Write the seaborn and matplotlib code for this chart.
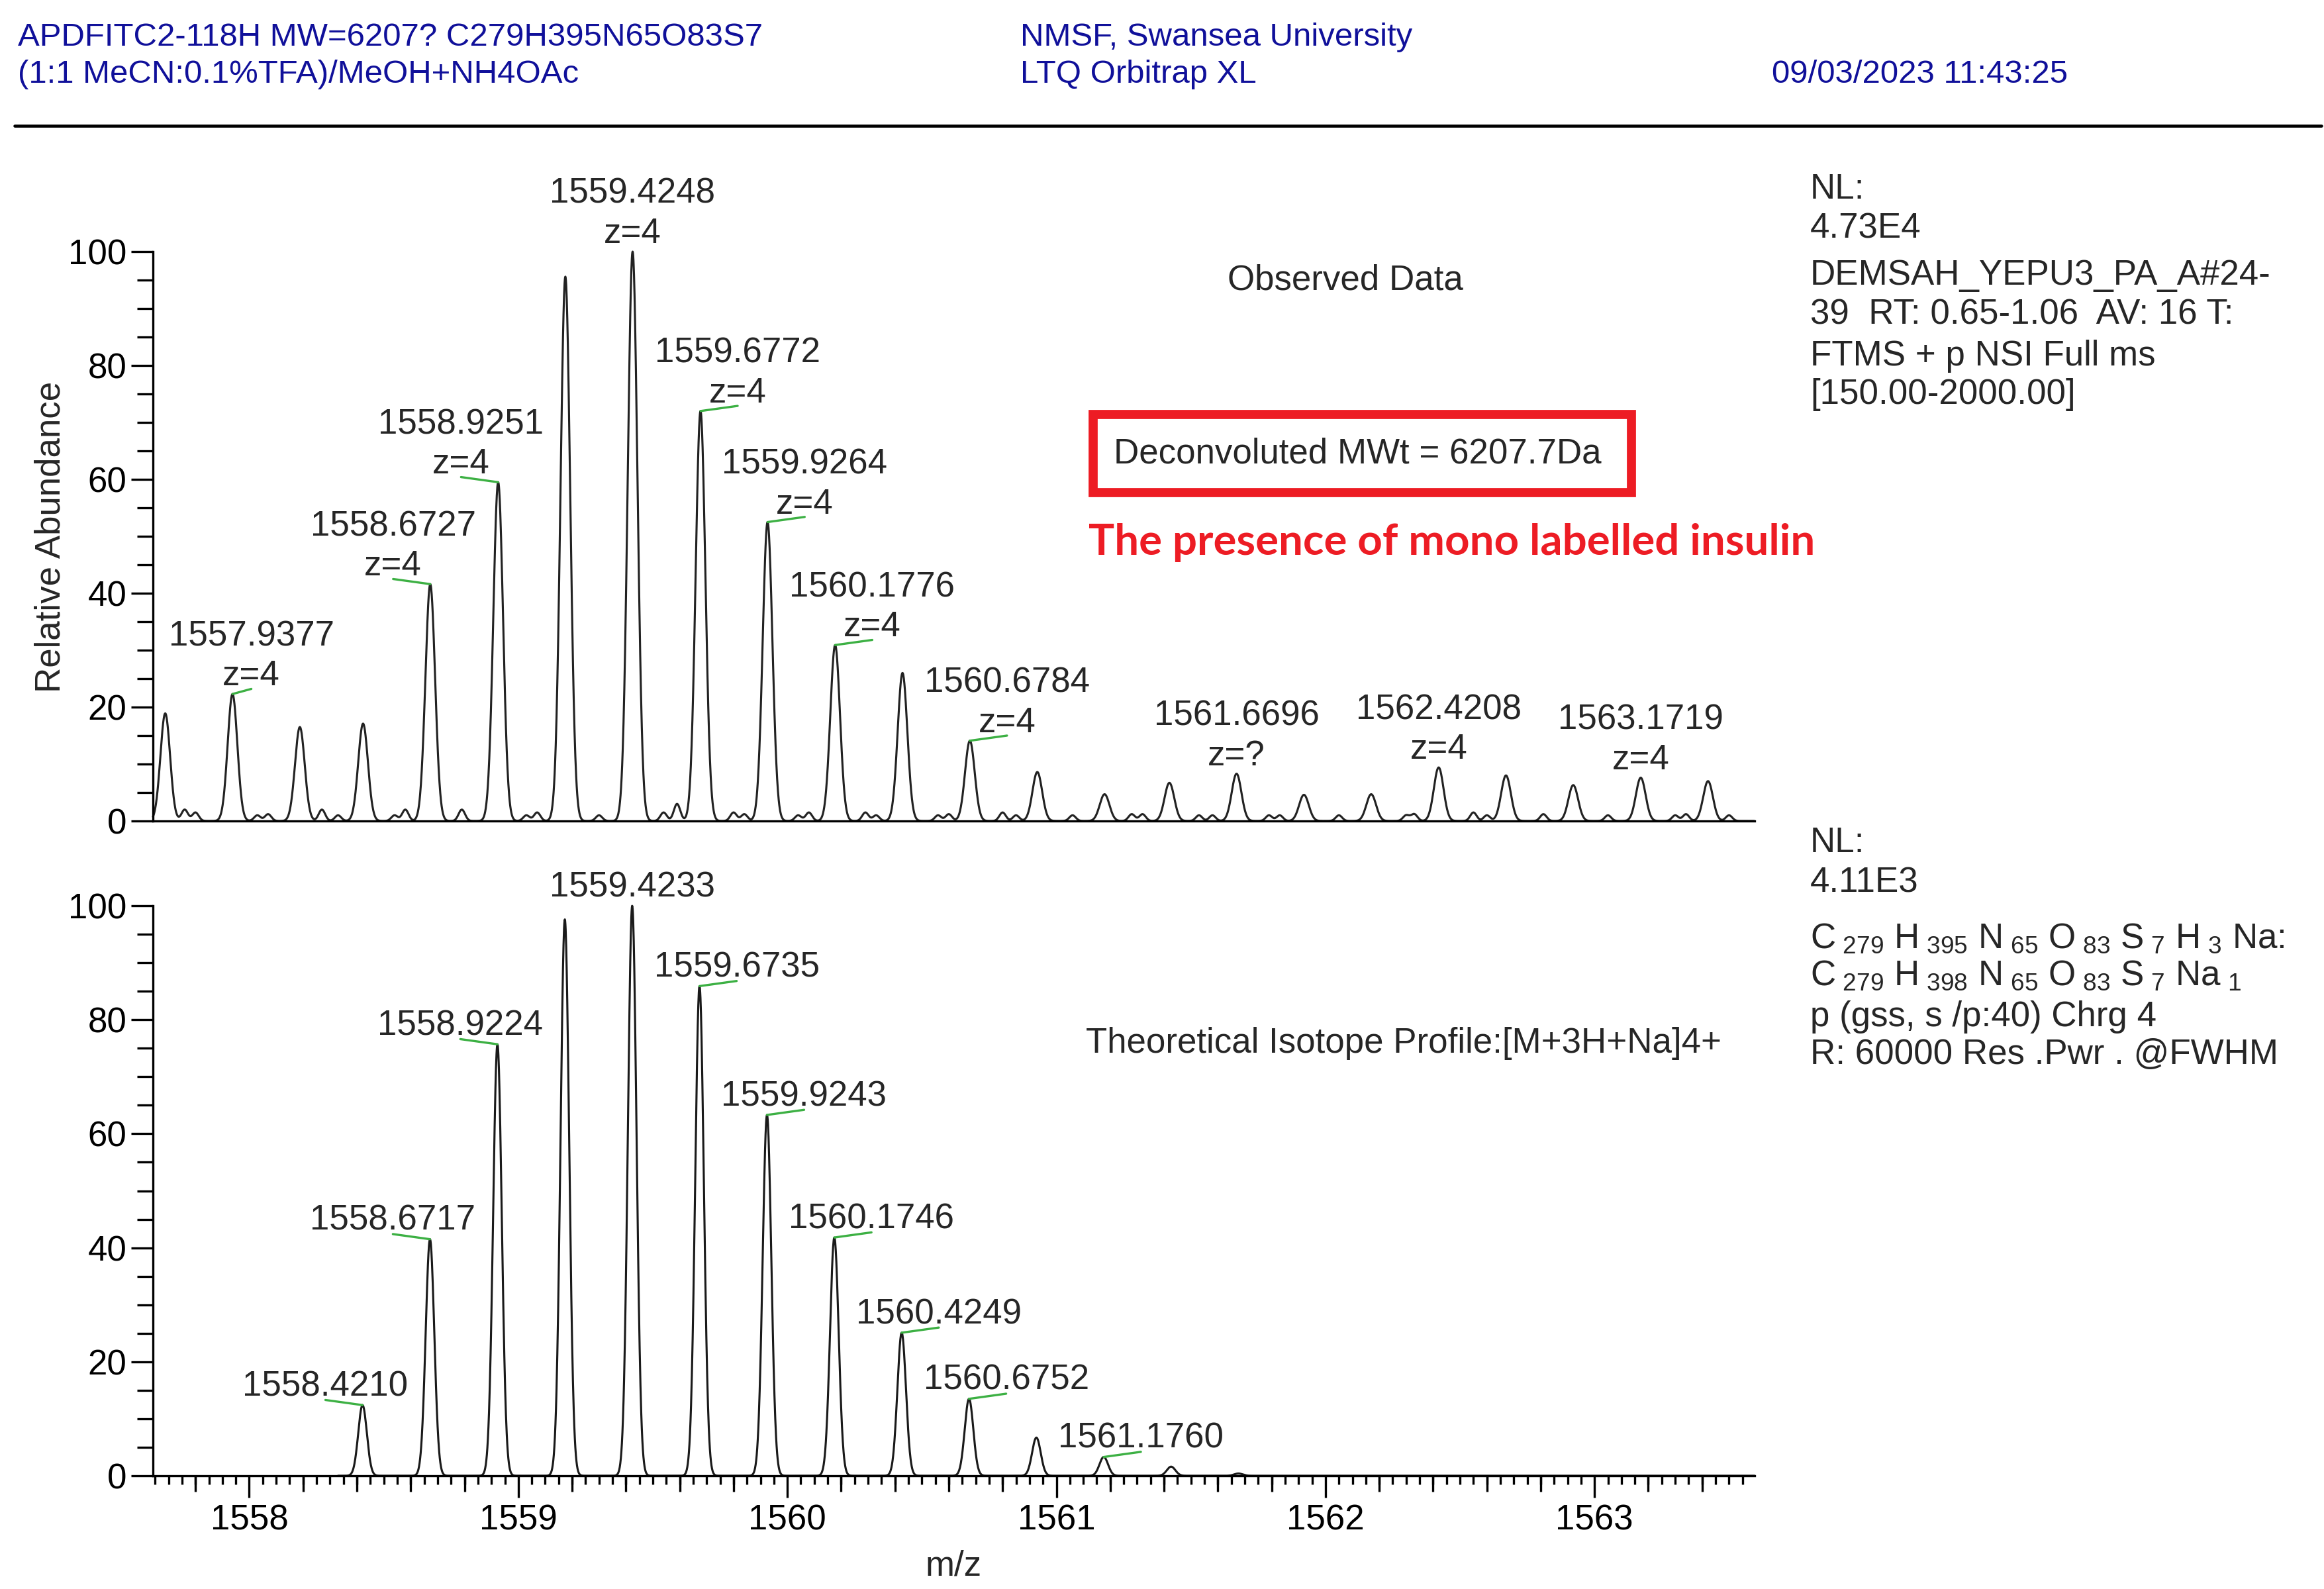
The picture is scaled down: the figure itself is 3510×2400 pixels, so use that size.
import numpy as np
import pandas as pd
import matplotlib
matplotlib.use("Agg")
import matplotlib.pyplot as plt
import seaborn as sns
from matplotlib.patches import Rectangle
from matplotlib.lines import Line2D
from matplotlib.ticker import MultipleLocator, FixedLocator, NullFormatter, FixedFormatter

# ---------------- data ----------------
obs_mz = [1557.6877, 1557.9377, 1558.1880, 1558.4230, 1558.6727, 1558.9251,
          1559.1748, 1559.4248, 1559.6772, 1559.9264, 1560.1776, 1560.4280,
          1560.6784, 1560.9290, 1561.1790, 1561.4200, 1561.6696, 1561.9200,
          1562.1700, 1562.4208, 1562.6710, 1562.9210, 1563.1719, 1563.4220]
obs_int = [18.9, 22.3, 16.5, 17.1, 41.6, 59.5,
           95.6, 100.0, 72.0, 52.5, 30.9, 26.0,
           14.1, 8.6, 4.7, 6.7, 8.3, 4.6,
           4.7, 9.4, 8.0, 6.3, 7.6, 7.0]
obs_minor_mz = [1557.76, 1557.80, 1558.03, 1558.07, 1558.27, 1558.33, 1558.54,
                1558.58, 1558.79, 1559.03, 1559.07, 1559.30, 1559.54, 1559.59,
                1559.80, 1559.84, 1560.04, 1560.08, 1560.29, 1560.33, 1560.56,
                1560.60, 1560.80, 1560.85, 1561.06, 1561.28, 1561.32, 1561.53,
                1561.58, 1561.79, 1561.83, 1562.05, 1562.30, 1562.33, 1562.55,
                1562.60, 1562.81, 1563.05, 1563.30, 1563.34, 1563.50]
obs_minor_int = [2.0, 1.5, 1.0, 1.2, 2.0, 1.0, 1.0, 2.0, 2.0, 1.0, 1.5, 1.0,
                 1.5, 3.0, 1.5, 1.2, 1.0, 1.5, 1.5, 1.0, 1.0, 1.2, 1.5, 1.0,
                 1.0, 1.2, 1.2, 1.0, 1.0, 1.0, 1.0, 1.0, 1.0, 1.2, 1.5, 1.0,
                 1.2, 1.0, 1.0, 1.2, 1.0]
obs_labels = ["1557.9377", "1558.6727", "1558.9251", "1559.4248", "1559.6772",
              "1559.9264", "1560.1776", "1560.6784", "1561.6696", "1562.4208",
              "1563.1719"]
obs_charges = ["z=4", "z=4", "z=4", "z=4", "z=4", "z=4", "z=4", "z=4",
               "z=?", "z=4", "z=4"]

theo_mz = [1558.1700, 1558.4210, 1558.6717, 1558.9224, 1559.1729, 1559.4233,
           1559.6735, 1559.9243, 1560.1746, 1560.4249, 1560.6752, 1560.9256,
           1561.1760, 1561.4263, 1561.6766]
theo_int = [0.2, 12.4, 41.5, 75.7, 97.6, 100.0, 85.9, 63.3, 41.8, 25.1,
            13.5, 6.7, 3.3, 1.6, 0.4]
theo_labels = ["1558.4210", "1558.6717", "1558.9224", "1559.4233", "1559.6735",
               "1559.9243", "1560.1746", "1560.4249", "1560.6752", "1561.1760"]

x_major = [1558, 1559, 1560, 1561, 1562, 1563]
y_major = [0, 20, 40, 60, 80, 100]

header_left = ["APDFITC2-118H MW=6207? C279H395N65O83S7",
               "(1:1 MeCN:0.1%TFA)/MeOH+NH4OAc"]
header_mid = ["NMSF, Swansea University", "LTQ Orbitrap XL"]
header_date = "09/03/2023 11:43:25"
info_top = ["NL:", "4.73E4", "DEMSAH_YEPU3_PA_A#24-",
            "39  RT: 0.65-1.06  AV: 16 T:", "FTMS + p NSI Full ms",
            "[150.00-2000.00]"]
info_bottom = ["NL:", "4.11E3",
               r"C$_{\ 279}$ H$_{\ 395}$ N$_{\ 65}$ O$_{\ 83}$ S$_{\ 7}$ H$_{\ 3}$ Na:",
               r"C$_{\ 279}$ H$_{\ 398}$ N$_{\ 65}$ O$_{\ 83}$ S$_{\ 7}$ Na$_{\ 1}$",
               "p (gss, s /p:40) Chrg 4",
               "R: 60000 Res .Pwr . @FWHM"]

# ---------------- layout (styling only) ----------------
obs_label_side = [0.07, -0.138, -0.138, 0, 0.138, 0.138, 0.138, 0.138, 0, 0, 0]
theo_label_side = [-0.138, -0.138, -0.138, 0, 0.138, 0.138, 0.138, 0.138, 0.138, 0.138]

W, H = 3510, 2400
sns.set_style("ticks")
plt.rcParams["font.family"] = ["Liberation Sans", "DejaVu Sans"]
plt.rcParams["mathtext.fontset"] = "custom"
plt.rcParams["mathtext.rm"] = "Liberation Sans"
plt.rcParams["mathtext.it"] = "Liberation Sans"
plt.rcParams["mathtext.default"] = "regular"

FS = 12.7
fig = plt.figure(figsize=(W / 300, H / 300), dpi=300)
fig.patch.set_facecolor("white")

def fx(x):
    return x / W

def fy(y):
    return 1 - y / H

XMIN, XMAX = 1557.642, 1563.595
AX_L, AX_R = 231, 2650
ax1 = fig.add_axes([fx(AX_L), fy(1240), fx(AX_R) - fx(AX_L), fy(380) - fy(1240)])
ax2 = fig.add_axes([fx(AX_L), fy(2229), fx(AX_R) - fx(AX_L), fy(1368) - fy(2229)])

def profile(centers, heights, sigma, grid):
    c = np.asarray(centers)[:, None]
    h = np.asarray(heights)[:, None]
    return (h * np.exp(-0.5 * ((grid[None, :] - c) / sigma) ** 2)).sum(axis=0)

grid1 = np.arange(XMIN, XMAX, 0.001)
y1 = profile(obs_mz, obs_int, 0.018, grid1) + profile(obs_minor_mz, obs_minor_int, 0.012, grid1)
df1 = pd.DataFrame({"mz": grid1, "rel": y1})
grid2 = np.arange(1558.33, XMAX, 0.001)
y2 = profile(theo_mz, theo_int, 0.016, grid2)
df2 = pd.DataFrame({"mz": grid2, "rel": y2})

sns.lineplot(data=df1, x="mz", y="rel", ax=ax1, color="#222222", lw=0.75,
             estimator=None, sort=False)
sns.lineplot(data=df2, x="mz", y="rel", ax=ax2, color="#1a1a1a", lw=0.75,
             estimator=None, sort=False)

for ax in (ax1, ax2):
    ax.set_xlim(XMIN, XMAX)
    ax.set_ylim(0, 100)
    ax.set_facecolor("white")
    for s in ("top", "right"):
        ax.spines[s].set_visible(False)
    for s in ("left", "bottom"):
        ax.spines[s].set_linewidth(0.8)
        ax.spines[s].set_color("black")
    ax.set_xlabel("")
    ax.set_ylabel("")
    ax.yaxis.set_major_locator(FixedLocator(y_major))
    ax.yaxis.set_minor_locator(MultipleLocator(5))
    ax.tick_params(axis="y", which="major", left=True, length=8, width=0.8,
                   direction="out", labelsize=FS, pad=1.5, colors="black")
    ax.tick_params(axis="y", which="minor", left=True, length=5.7, width=0.8,
                   direction="out", colors="black")
    for line in ax.get_lines():
        line.set_clip_on(False)

ax1.tick_params(axis="x", which="both", bottom=False, labelbottom=False)

ax2.xaxis.set_major_locator(FixedLocator(x_major))
ax2.xaxis.set_major_formatter(FixedFormatter([str(v) for v in x_major]))
ax2.xaxis.set_minor_locator(MultipleLocator(0.05))
ax2.tick_params(axis="x", which="major", bottom=True, length=8, width=0.8,
                direction="out", labelsize=FS, pad=2.2, colors="black")
ax2.tick_params(axis="x", which="minor", bottom=True, length=3.1, width=0.8,
                direction="out", colors="black")
sec = ax2.secondary_xaxis("bottom")
mid_ticks = [round(v, 2) for v in np.arange(1557.8, 1563.61, 0.2)
             if abs(v - round(v)) > 0.01 and XMIN <= v <= XMAX]
sec.xaxis.set_major_locator(FixedLocator(mid_ticks))
sec.xaxis.set_major_formatter(NullFormatter())
sec.xaxis.set_minor_locator(FixedLocator([]))
sec.tick_params(axis="x", which="major", bottom=True, length=5.8, width=0.8,
                direction="out", colors="black")
sec.spines["bottom"].set_visible(False)

GREEN = "#3cb043"

def peak_height(mzs, ints, label):
    v = float(label)
    i = int(np.argmin(np.abs(np.asarray(mzs) - v)))
    return ints[i]

for lab, z, off in zip(obs_labels, obs_charges, obs_label_side):
    m = float(lab)
    h = peak_height(obs_mz, obs_int, lab)
    if off != 0:
        ax1.plot([m, m + off], [h, h + 0.9], color=GREEN, lw=0.8, clip_on=False)
    ax1.text(m + off, h + 1.5, z, ha="center", va="baseline", fontsize=FS)
    ax1.text(m + off, h + 8.5, lab, ha="center", va="baseline", fontsize=FS)

for lab, off in zip(theo_labels, theo_label_side):
    m = float(lab)
    h = peak_height(theo_mz, theo_int, lab)
    if off != 0:
        ax2.plot([m, m + off], [h, h + 0.9], color=GREEN, lw=0.8, clip_on=False)
    ax2.text(m + off, h + 1.6, lab, ha="center", va="baseline", fontsize=FS)

# ---------------- figure texts ----------------
BLUE = "#10109a"
fig.text(fx(27), fy(69), header_left[0], color=BLUE, fontsize=11.8, va="baseline")
fig.text(fx(27), fy(125), header_left[1], color=BLUE, fontsize=11.8, va="baseline")
fig.text(fx(1541), fy(69), header_mid[0], color=BLUE, fontsize=11.8, va="baseline")
fig.text(fx(1541), fy(125), header_mid[1], color=BLUE, fontsize=11.8, va="baseline")
fig.text(fx(2676), fy(125), header_date, color=BLUE, fontsize=11.8, va="baseline")
fig.add_artist(Line2D([fx(22), fx(3506)], [fy(190), fy(190)], lw=1.1, color="black"))

for s, yb in zip(info_top, [300, 360, 430, 490, 552, 610]):
    fig.text(fx(2734), fy(yb), s, fontsize=FS, va="baseline")
for s, yb in zip(info_bottom, [1287, 1347, 1432, 1488, 1550, 1607]):
    fig.text(fx(2734), fy(yb), s, fontsize=FS, va="baseline")

fig.text(fx(2032), fy(438), "Observed Data", fontsize=FS, ha="center", va="baseline")
fig.text(fx(1640), fy(1590), "Theoretical Isotope Profile:[M+3H+Na]4+",
         fontsize=FS, va="baseline")

fig.add_artist(Rectangle((fx(1651), fy(744)), fx(2464) - fx(1651), fy(626) - fy(744),
                         transform=fig.transFigure, fill=False, edgecolor="#ed1c24",
                         lw=3.3))
fig.text(fx(1682), fy(699), "Deconvoluted MWt = 6207.7Da", fontsize=FS, va="baseline")
fig.text(fx(1644), fy(838), "The presence of mono labelled insulin",
         fontsize=15.7, va="baseline", color="#ed1c24", fontweight="bold",
         family=["Lato", "DejaVu Sans"])

fig.text(fx(77), fy(811), "Relative Abundance", rotation=90, fontsize=FS,
         ha="center", va="center")
fig.text(fx(1440), fy(2365), "m/z", fontsize=FS, ha="center", va="center")

fig.savefig("out.png", dpi=300, facecolor="white")
